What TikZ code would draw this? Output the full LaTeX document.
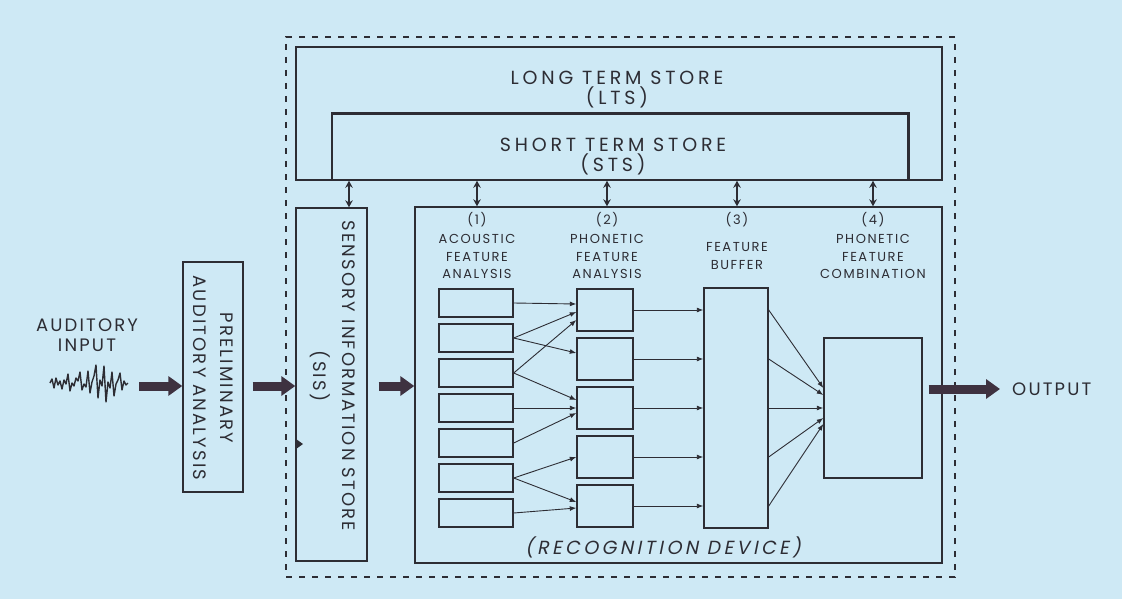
\documentclass[tikz,border=0pt]{standalone}
\usepackage{fontspec}
\setmainfont{Poppins}
\newfontfamily\lblfont[LetterSpace=12]{Poppins}
\newfontfamily\storefont[LetterSpace=20]{Poppins}
\newfontfamily\slantfont[LetterSpace=18, FakeSlant=0.2]{Poppins}
\usetikzlibrary{arrows.meta, calc}
\definecolor{paper}{RGB}{206,233,245}
\definecolor{ink}{RGB}{45,45,52}
\definecolor{fatink}{RGB}{62,50,64}

\begin{document}
\begin{tikzpicture}[x=1pt, y=-1pt,
  box/.style={draw=ink, line width=1.4pt, inner sep=0pt},
  lbl/.style={text=ink, font={\lblfont\fontsize{18}{22}\selectfont}, align=center, inner sep=0pt},
  storelbl/.style={lbl, font={\storefont\fontsize{19}{20}\selectfont}},
  hdr/.style={text=ink, font={\lblfont\fontsize{13}{17.5}\selectfont}, align=center, inner sep=0pt, anchor=north},
  fat/.style={-{Triangle[length=14pt, width=19pt]}, line width=9pt, draw=fatink},
  arr/.style={-{Latex[length=6.5pt, width=5pt]}, line width=0.9pt, draw=ink},
  dbl/.style={{Stealth[length=7pt, width=7.5pt]}-{Stealth[length=7pt, width=7.5pt]}, line width=2.3pt, draw=ink}]

  \fill[paper] (0,0) rectangle (1122,599);

  % ----- outer dashed frame -----
  \node[draw=ink, dash pattern=on 6pt off 7pt, line width=1.3pt, inner sep=0pt,
        minimum width=669pt, minimum height=540pt] at (620.5,307) (frame) {};

  % ----- LTS / STS -----
  \node[box, line width=1.5pt, minimum width=646pt, minimum height=133pt] at (619,113.5) (lts) {};
  \node[storelbl] at (617,90) (ltslbl) {LONG TERM STORE\\(LTS)};
  \node[inner sep=0pt, minimum width=576pt, minimum height=66pt] at (620,147) (sts) {};
  \draw[ink, line width=2.6pt] (sts.south west) -- (sts.north west) -- (sts.north east) -- (sts.south east);
  \node[storelbl] at (613,157) (stslbl) {SHORT TERM STORE\\(STS)};

  % ----- auditory input -----
  \node[lbl, font={\lblfont\fontsize{18}{20}\selectfont}] at (87,335) (inlbl) {AUDITORY\\INPUT};
  \node[inner sep=0pt, minimum width=78pt, minimum height=40pt] at (89,383) (wave) {};
  \draw[ink, line width=1.4pt, line join=round]
    (50,383) -- (52,379) -- (54,388) -- (56,378) -- (58,385) -- (60,381) -- (62,389) -- (64,380)
    -- (66,384) -- (68,374) -- (70,391) -- (72,383) -- (74,386) -- (76,378) -- (78,381) -- (80,372)
    -- (82,390) -- (84,384) -- (86,387) -- (88,371) -- (90,393) -- (92,382) -- (94,376) -- (96,365)
    -- (98,398) -- (100,380) -- (102,386) -- (104,366) -- (106,402) -- (108,382) -- (110,388)
    -- (112,372) -- (114,396) -- (116,384) -- (118,380) -- (120,373) -- (122,390) -- (124,381)
    -- (126,385) -- (128,383);

  % ----- preliminary analysis -----
  \node[box, minimum width=60pt, minimum height=230pt] at (213,377) (prelim) {};
  \node[lbl, rotate=-90] at (213.5,378) (prelimlbl) {PRELIMINARY\\[5pt]AUDITORY ANALYSIS};

  % ----- sensory information store -----
  \node[box, minimum width=71pt, minimum height=353pt] at (331.5,384.5) (sis) {};
  \node[lbl, rotate=-90] at (332.5,376) (sislbl) {SENSORY INFORMATION STORE\\[7pt](SIS)};
  \fill[ink] (296,439) -- (303,444) -- (296,449) -- cycle;

  % ----- recognition device -----
  \node[box, minimum width=527pt, minimum height=356pt] at (678.5,385) (rec) {};
  \node[lbl, font={\slantfont\fontsize{19}{22}\selectfont}] at (663,547) (reclbl) {(RECOGNITION DEVICE)};

  \node[hdr] at (477,212) (hd1) {(1)\\[2pt]ACOUSTIC\\FEATURE\\ANALYSIS};
  \node[hdr] at (607,212) (hd2) {(2)\\[2pt]PHONETIC\\FEATURE\\ANALYSIS};
  \node[hdr] at (737,212) (hd3) {(3)\\[10pt]FEATURE\\BUFFER};
  \node[hdr] at (873,212) (hd4) {(4)\\[2pt]PHONETIC\\FEATURE\\COMBINATION};

  % ----- acoustic feature boxes -----
  \node[box, minimum width=74pt, minimum height=28pt] at (476,303) (a1) {};
  \node[box, minimum width=74pt, minimum height=28pt] at (476,338) (a2) {};
  \node[box, minimum width=74pt, minimum height=28pt] at (476,373) (a3) {};
  \node[box, minimum width=74pt, minimum height=28pt] at (476,408) (a4) {};
  \node[box, minimum width=74pt, minimum height=28pt] at (476,443) (a5) {};
  \node[box, minimum width=74pt, minimum height=28pt] at (476,478) (a6) {};
  \node[box, minimum width=74pt, minimum height=28pt] at (476,513) (a7) {};

  % ----- phonetic feature boxes -----
  \node[box, minimum width=56pt, minimum height=42pt] at (605,310) (p1) {};
  \node[box, minimum width=56pt, minimum height=42pt] at (605,359) (p2) {};
  \node[box, minimum width=56pt, minimum height=42pt] at (605,408) (p3) {};
  \node[box, minimum width=56pt, minimum height=42pt] at (605,457) (p4) {};
  \node[box, minimum width=56pt, minimum height=42pt] at (605,506) (p5) {};

  % ----- buffer and combination -----
  \node[box, minimum width=64pt, minimum height=240pt] at (736,408) (buf) {};
  \node[box, minimum width=98pt, minimum height=140pt] at (873,408) (comb) {};

  % ----- links to the stores -----
  \coordinate (sistop) at ([xshift=17.5pt]sis.north);
  \draw[dbl] (sistop |- lts.south) -- (sistop);
  \draw[dbl] (lts.south -| hd1) -- (rec.north -| hd1);
  \draw[dbl] (lts.south -| hd2) -- (rec.north -| hd2);
  \draw[dbl] (lts.south -| hd3) -- (rec.north -| hd3);
  \draw[dbl] (lts.south -| hd4) -- (rec.north -| hd4);

  % ----- acoustic -> phonetic -----
  \draw[arr] (a1.east) -- ([yshift=6pt]p1.west);
  \draw[arr] (a2.east) -- ([yshift=-2pt]p1.west);
  \draw[arr] (a3.east) -- ([yshift=-10pt]p1.west);
  \draw[arr] (a2.east) -- ([yshift=6pt]p2.west);
  \draw[arr] (a3.east) -- ([yshift=8pt]p3.west);
  \draw[arr] (a4.east) -- (p3.west);
  \draw[arr] (a5.east) -- ([yshift=-5pt]p3.west);
  \draw[arr] (a6.east) -- (p4.west);
  \draw[arr] (a6.east) -- ([yshift=4pt]p5.west);
  \draw[arr] (a7.east) -- ([yshift=-2pt]p5.west);

  % ----- phonetic -> buffer -----
  \draw[arr] (p1.east) -- (p1.east -| buf.west);
  \draw[arr] (p2.east) -- (p2.east -| buf.west);
  \draw[arr] (p3.east) -- (p3.east -| buf.west);
  \draw[arr] (p4.east) -- (p4.east -| buf.west);
  \draw[arr] (p5.east) -- (p5.east -| buf.west);

  % ----- buffer -> combination -----
  \draw[arr] (buf.east |- p1) -- ([yshift=20pt]comb.west);
  \draw[arr] (buf.east |- p2) -- ([yshift=13pt]comb.west);
  \draw[arr] (buf.east |- p3) -- (comb.west);
  \draw[arr] (buf.east |- p4) -- ([yshift=-10pt]comb.west);
  \draw[arr] (buf.east |- p5) -- ([yshift=-16pt]comb.west);

  % ----- main flow -----
  \coordinate (flow) at (0,386);
  \draw[fat, shorten <=11pt] (wave.east |- flow) -- (prelim.west |- flow);
  \draw[fat, shorten <=9pt] (prelim.east |- flow) -- (sis.west |- flow);
  \draw[fat, shorten <=11pt] (sis.east |- flow) -- (rec.west |- flow);

  \node[lbl, anchor=west] at (1012,389) (outlbl) {OUTPUT};
  \draw[fat, shorten <=6pt, shorten >=12pt] (comb.east |- outlbl.west) -- (outlbl.west);

\end{tikzpicture}
\end{document}
